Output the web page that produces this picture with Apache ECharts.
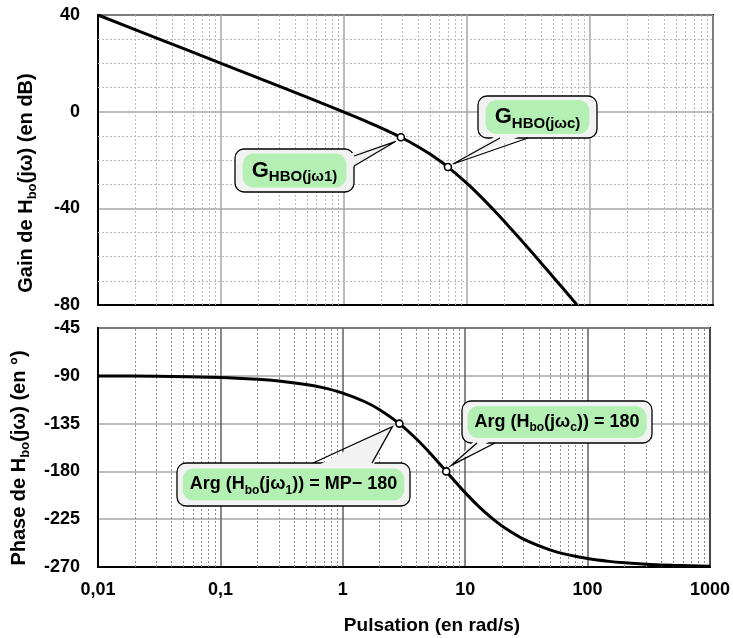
<!DOCTYPE html>
<html><head><meta charset="utf-8">
<script src="https://cdn.jsdelivr.net/npm/echarts@6/dist/echarts.min.js"></script>
<style>html,body{margin:0;padding:0;background:#fff}#c{width:733px;height:638px}</style>
</head><body><div id="c"></div>
<script>
// ---- data ----
const omegaGain = [0.01,0.03,0.1,0.3,1,1.5,2,2.9,4,5,7,10,13,17,20,25,30,40,50,60,78];
const gainDb    = [40.0,30.46,20.0,10.44,-0.18,-3.91,-6.70,-10.6,-14.5,-17.56,-22.92,-29.66,-35.25,-41.39,-45.26,-50.73,-55.28,-62.58,-68.3,-73.0,-79.8];
const omegaPhase = [0.01,0.03,0.1,0.2,0.3,0.5,0.7,1,1.5,2,2.9,4,5,7,10,13,17,20,30,50,70,100,150,200,300,500,1000];
const phaseDeg   = [-90.16,-90.49,-91.64,-93.27,-94.9,-98.2,-101.4,-106.3,-114.2,-121.9,-135.0,-149.5,-161.1,-180.0,-200.0,-213.4,-225.2,-231.4,-243.7,-254.1,-258.6,-262.0,-264.7,-266.0,-267.3,-268.4,-269.2];
const omegaMarks = [2.9, 7];
const gainMarks  = [-10.6, -22.9];
const phaseMarks = [-135, -180];
const xTickLabels = ['0,01','0,1','1','10','100','1000'];
const gainMinorLines = [30,20,10,-10,-20,-30,-50,-60,-70];
const decades = [0.01,0.1,1,10,100];
const mults = [2,3,4,5,6,7,8,9];

const FONT = "'Liberation Sans', Arial, sans-serif";
const minorX = [];
decades.forEach(d => mults.forEach(m => minorX.push(+(d*m).toPrecision(3))));

const chart = echarts.init(document.getElementById('c'), null, {renderer:'canvas'});

function pairs(xs, ys){ return xs.map((x,i)=>[x, ys[i]]); }

const xBase = (gi, showLabels, splitColor) => ({
  type:'log', logBase:10, gridIndex:gi, min:0.01, max:1000,
  axisLine:{show:true, onZero:false, lineStyle:{color:'#000', width:2}},
  axisTick:{show:false},
  axisLabel:{show:showLabels, margin:14, color:'#000', fontFamily:FONT, fontWeight:'bold', fontSize:18,
    showMinLabel:true, showMaxLabel:true,
    formatter: v => xTickLabels[Math.round(Math.log10(v))+2] || ''},
  splitLine:{show:true, lineStyle:{color:splitColor, width:1.5}}
});

const option = {
  animation:false,
  backgroundColor:'#fff',
  grid:[
    {left:98, top:15, width:615, height:290, show:true, borderColor:'#000', borderWidth:2, containLabel:false},
    {left:98, top:328, width:615, height:239, show:true, borderColor:'#000', borderWidth:2, containLabel:false}
  ],
  xAxis:[ xBase(0,false,'#a6a6a6'), xBase(1,true,'#606060') ],
  yAxis:[
    {type:'value', gridIndex:0, min:-80, max:40, interval:40,
     axisLine:{show:true, lineStyle:{color:'#000', width:2}}, axisTick:{show:false},
     axisLabel:{margin:18, color:'#000', fontFamily:FONT, fontWeight:'bold', fontSize:18},
     splitLine:{show:true, lineStyle:{color:'#a6a6a6', width:1.5}}},
    {type:'value', gridIndex:1, min:-270, max:-45, interval:45,
     axisLine:{show:true, lineStyle:{color:'#000', width:2}}, axisTick:{show:false},
     axisLabel:{margin:18, color:'#000', fontFamily:FONT, fontWeight:'bold', fontSize:18},
     splitLine:{show:true, lineStyle:{color:'#a6a6a6', width:1.5}}}
  ],
  series:[
    {type:'line', xAxisIndex:0, yAxisIndex:0, data:[], z:1, silent:true,
     markLine:{silent:true, symbol:'none', label:{show:false}, animation:false,
       lineStyle:{color:'#b8b8b8', width:1, type:[2,2]},
       data: minorX.map(v=>({xAxis:v})).concat(gainMinorLines.map(v=>({yAxis:v})))}},
    {type:'line', xAxisIndex:1, yAxisIndex:1, data:[], z:1, silent:true,
     markLine:{silent:true, symbol:'none', label:{show:false}, animation:false,
       lineStyle:{color:'#8a8a8a', width:1, type:[2,2]},
       data: minorX.map(v=>({xAxis:v}))}},
    {type:'line', xAxisIndex:0, yAxisIndex:0, data:pairs(omegaGain, gainDb), smooth:0.3,
     showSymbol:false, z:5, lineStyle:{color:'#000', width:3}, clip:true},
    {type:'line', xAxisIndex:1, yAxisIndex:1, data:pairs(omegaPhase, phaseDeg), smooth:0.3,
     showSymbol:false, z:5, lineStyle:{color:'#000', width:3}, clip:true},
    {type:'scatter', xAxisIndex:0, yAxisIndex:0, data:pairs(omegaMarks, gainMarks), z:6,
     symbol:'circle', symbolSize:7, itemStyle:{color:'#fff', borderColor:'#000', borderWidth:1.6, opacity:1}},
    {type:'scatter', xAxisIndex:1, yAxisIndex:1, data:pairs(omegaMarks, phaseMarks), z:6,
     symbol:'circle', symbolSize:7, itemStyle:{color:'#fff', borderColor:'#000', borderWidth:1.6, opacity:1}}
  ]
};
chart.setOption(option);

// ---- annotations ----
const gfx = [];
function axisTitle(x, y, pre, sub, post){
  gfx.push({type:'text', x:x, y:y, rotation:Math.PI/2, z:10,
    style:{text:'{a|'+pre+'}{s|'+sub+'}{a|'+post+'}', align:'center', verticalAlign:'middle',
      rich:{a:{fontFamily:FONT, fontWeight:'bold', fontSize:20, lineHeight:26, fill:'#000'},
            s:{fontFamily:FONT, fontWeight:'bold', fontSize:13, lineHeight:16, verticalAlign:'bottom', fill:'#000'}}}});
}
axisTitle(26, 183, 'Gain de H', 'bo', '(jω) (en dB)');
axisTitle(19, 458, 'Phase de H', 'bo', '(jω) (en °)');
gfx.push({type:'text', x:432, y:626, z:10,
  style:{text:'Pulsation (en rad/s)', align:'center', verticalAlign:'middle',
    fontFamily:FONT, fontWeight:'bold', fontSize:19, fill:'#000'}});

function callout(box, base, gi, pt, tipOff, text, rich, pad){
  const p = chart.convertToPixel({gridIndex:gi}, pt);
  const tip = [p[0]+tipOff[0], p[1]+tipOff[1]];
  gfx.push({type:'rect', z:20, shape:{x:box[0], y:box[1], width:box[2], height:box[3], r:9},
    style:{fill:'#f2f2f2', stroke:'#000', lineWidth:1.3}});
  gfx.push({type:'polygon', z:21, shape:{points:[base[0], tip, base[1]]},
    style:{fill:'#f2f2f2', stroke:null}});
  gfx.push({type:'polyline', z:22, shape:{points:[base[2], tip, base[3]]},
    style:{fill:null, stroke:'#000', lineWidth:1.3}});
  gfx.push({type:'text', z:23, x:box[0]+box[2]/2, y:box[1]+box[3]/2,
    style:{text:text, rich:rich, align:'center', verticalAlign:'middle',
      backgroundColor:'#b4f0b4', borderRadius:11, padding:pad}});
}
const richG = {
  g:{fontFamily:FONT, fontWeight:'bold', fontSize:22, lineHeight:28, fill:'#000'},
  s:{fontFamily:FONT, fontWeight:'bold', fontSize:15, lineHeight:18, verticalAlign:'bottom', fill:'#000'}
};
const richA = {
  a:{fontFamily:FONT, fontWeight:'bold', fontSize:18, lineHeight:24, fill:'#000'},
  s:{fontFamily:FONT, fontWeight:'bold', fontSize:12, lineHeight:15, verticalAlign:'bottom', fill:'#000'}
};
// top: G_HBO(jω1)
callout([235,149,119,43], [[349,154],[349,169],[354,156],[354,166]], 0, [omegaMarks[0], gainMarks[0]], [-5,4],
  '{g|G}{s|HBO(jω1)}', richG, [3,9]);
// top: G_HBO(jωc)
callout([478,96,119,42], [[500,133],[528,133],[500,138],[528,138]], 0, [omegaMarks[1], gainMarks[1]], [5,-3],
  '{g|G}{s|HBO(jωc)}', richG, [3,9]);
// bottom: Arg(Hbo(jω1)) = MP − 180
callout([177,463,233,43], [[313,468],[372,468],[313,463],[372,463]], 1, [omegaMarks[0], phaseMarks[0]], [-7,3],
  '{a|Arg (H}{s|bo}{a|(jω}{s|1}{a|)) = MP− 180}', richA, [4,7]);
// bottom: Arg(Hbo(jωc)) = 180
callout([462,401,190,42], [[477,438],[495,438],[477,443],[495,443]], 1, [omegaMarks[1], phaseMarks[1]], [5,-6],
  '{a|Arg (H}{s|bo}{a|(jω}{s|c}{a|)) = 180}', richA, [4,7]);

chart.setOption({graphic:gfx});
</script>
</body></html>
